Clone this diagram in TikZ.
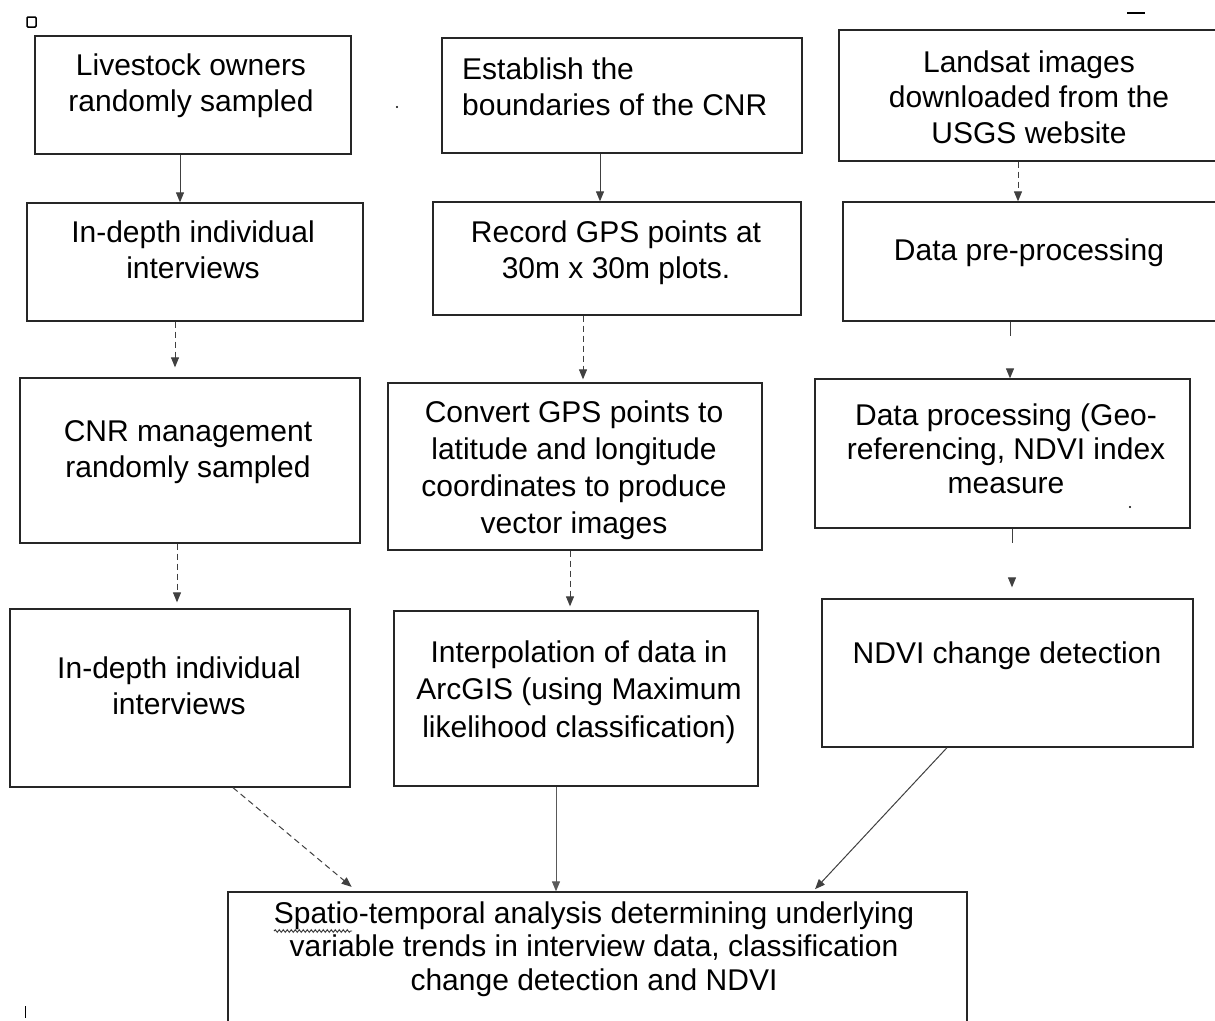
\documentclass[tikz,border=0pt]{standalone}
\usepackage{fontspec}
\setmainfont{Liberation Sans}
\usetikzlibrary{arrows.meta,decorations.pathmorphing}
\begin{document}
\begin{tikzpicture}[x=1pt,y=-1pt,
  box/.style={draw=black!85, line width=1.3pt, rectangle, inner sep=0pt},
  txt/.style={align=center, inner sep=0pt, anchor=base, font=\fontsize{30}{36}\selectfont},
  conn/.style={draw=black!75, line width=1pt, -{Triangle[length=10pt,width=8pt]}},
  dsh/.style={conn, dash pattern=on 6pt off 4pt},
  sparse/.style={conn, dash pattern=on 14pt off 60pt}]
\useasboundingbox (0,0) rectangle (1215,1020);
\clip (0,0) rectangle (1215,1020);
\fill[white] (0,0) rectangle (1215,1020);

% boxes
\node[box, minimum width=316pt, minimum height=118pt] (a1) at (193,95) {};
\node[box, minimum width=336pt, minimum height=118pt] (a2) at (195,262) {};
\node[box, minimum width=340pt, minimum height=165pt] (a3) at (190,460.5) {};
\node[box, minimum width=340pt, minimum height=178pt] (a4) at (180,698) {};
\node[box, minimum width=360pt, minimum height=115pt] (b1) at (622,95.5) {};
\node[box, minimum width=368pt, minimum height=113pt] (b2) at (617,258.5) {};
\node[box, minimum width=374pt, minimum height=167pt] (b3) at (575,466.5) {};
\node[box, minimum width=364pt, minimum height=175pt] (b4) at (576,698.5) {};
\node[box, minimum width=383pt, minimum height=131pt] (c1) at (1030.5,95.5) {};
\node[box, minimum width=379pt, minimum height=119pt] (c2) at (1032.5,261.5) {};
\node[box, minimum width=375pt, minimum height=149pt] (c3) at (1002.5,453.5) {};
\node[box, minimum width=371pt, minimum height=148pt] (c4) at (1007.5,673) {};
\node[box, minimum width=739pt, minimum height=170pt] (d) at (597.5,977) {};

% texts (anchor=base is the baseline of the last line)
\node[txt] (a1t) at (191,111) {Livestock owners\\randomly sampled};
\node[txt] (a2t) at (193,278) {In-depth individual\\interviews};
\node[txt] (a3t) at (188,477) {CNR management\\randomly sampled};
\node[txt] (a4t) at (179,714) {In-depth individual\\interviews};
\node[txt, align=left, anchor=base west] (b1t) at (462,115) {Establish the\\boundaries of the CNR};
\node[txt] (b2t) at (616,278) {Record GPS points at\\30m x 30m plots.};
\node[txt, font=\fontsize{30}{37}\selectfont] (b3t) at (574,533) {Convert GPS points to\\latitude and longitude\\coordinates to produce\\vector images};
\node[txt, font=\fontsize{30}{37.5}\selectfont] (b4t) at (579,737) {Interpolation of data in\\ArcGIS (using Maximum\\likelihood classification)};
\node[txt, font=\fontsize{30}{35.5}\selectfont] (c1t) at (1029,143) {Landsat images\\downloaded from the\\USGS website};
\node[txt] (c2t) at (1029,260) {Data pre-processing};
\node[txt, font=\fontsize{30}{34}\selectfont] (c3t) at (1006,493) {Data processing (Geo-\\referencing, NDVI index\\measure};
\node[txt] (c4t) at (1007,663) {NDVI change detection};
\node[txt, font=\fontsize{30}{33.5}\selectfont] (dt) at (594,990) {Spatio-temporal analysis determining underlying\\variable trends in interview data, classification\\change detection and NDVI};

% connectors
\draw[conn] ([xshift=-13pt]a1.south) -- ([xshift=-15pt]a2.north);
\draw[dsh, shorten >=10pt] ([xshift=-20pt]a2.south) -- ([xshift=-15pt]a3.north);
\draw[dsh, shorten >=6pt] ([xshift=-13pt]a3.south) -- ([xshift=-3pt]a4.north);
\draw[conn] ([xshift=-22pt]b1.south) -- ([xshift=-17pt]b2.north);
\draw[dsh, shorten >=3pt] ([xshift=-34pt]b2.south) -- ([xshift=8pt]b3.north);
\draw[dsh, shorten >=4pt] ([xshift=-5pt]b3.south) -- ([xshift=-6pt]b4.north);
\draw[dsh] ([xshift=-12.5pt]c1.south) -- ([xshift=-14.5pt]c2.north);
\draw[sparse] ([xshift=-22.5pt]c2.south) -- ([xshift=7.5pt]c3.north);
\draw[sparse, shorten >=11pt] ([xshift=9.5pt]c3.south) -- ([xshift=4.5pt]c4.north);
\draw[dsh, shorten >=7pt] ([xshift=53pt]a4.south) -- ([xshift=-240.5pt]d.north);
\draw[conn, draw=black!65] ([xshift=-20pt]b4.south) -- ([xshift=-41.5pt]d.north);
\draw[conn, shorten >=3pt] ([xshift=-60.5pt]c4.south) -- ([xshift=215.5pt]d.north);

% wavy spell-check underline under "Spatio"
\draw[black!80, line width=0.9pt, decorate, decoration={snake, amplitude=1.3pt, segment length=4pt}] (274,931) -- (352,931);

% scan marks
\draw[line width=1.5pt, rounded corners=1pt] (27,17) rectangle (36,27);
\draw[line width=2pt] (1127,13) -- (1145,13);
\fill (397,107) circle (1.2pt);
\fill (1130,507) circle (1.2pt);
\draw[line width=1pt] (25,1006) -- (25,1018);
\end{tikzpicture}
\end{document}
